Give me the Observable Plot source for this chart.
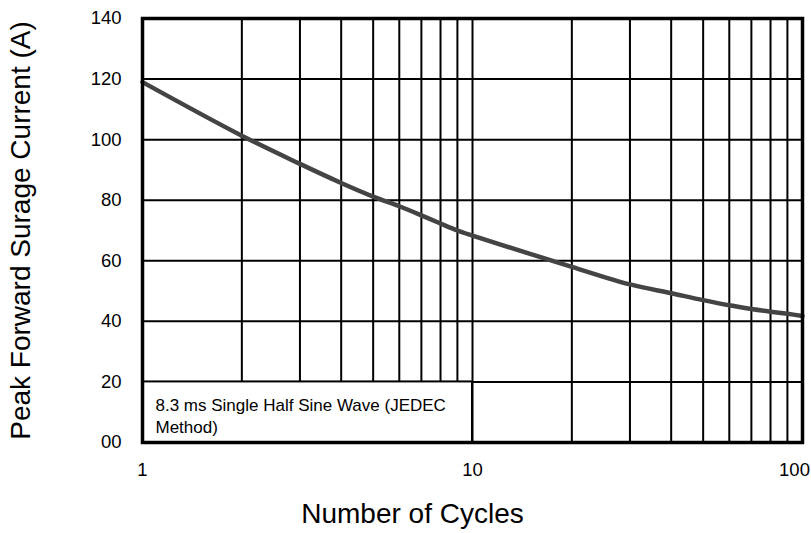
<!DOCTYPE html>
<html>
<head>
<meta charset="utf-8">
<script src="https://cdn.jsdelivr.net/npm/d3@7"></script>
<script src="https://cdn.jsdelivr.net/npm/@observablehq/plot@0.6"></script>
<style>
  html, body { margin: 0; padding: 0; background: #fff; }
  #chart { width: 811px; height: 533px; }
</style>
</head>
<body>
<div id="chart"></div>
<script>
// Data
const cycles  = [1, 2, 3, 4, 5, 6, 7, 8, 9, 10, 20, 30, 40, 50, 60, 70, 80, 90, 100];
const current = [119, 101.3, 92, 85.7, 81.2, 78, 75, 72.3, 70, 68.3, 58, 52.2, 49.3, 47, 45.3, 44.1, 43.2, 42.5, 41.8];

const xGrid = [2, 3, 4, 5, 6, 7, 8, 9, 10, 20, 30, 40, 50, 60, 70, 80, 90];
const yGrid = [20, 40, 60, 80, 100, 120];
const yTicks = [0, 20, 40, 60, 80, 100, 120, 140];
const yTickLabels = ["00", "20", "40", "60", "80", "100", "120", "140"];
const xTicksMain = [1, 10];
const xTicksEnd = [100];
const noteBox = [{x1: 1, x2: 10, y1: 0, y2: 20}];
const noteText = "8.3 ms Single Half Sine Wave (JEDEC\nMethod)";
const xLabel = "Number of Cycles";
const yLabel = "Peak Forward Surage Current (A)";

const data = cycles.map((c, i) => ({c, v: current[i]}));

const chart = Plot.plot({
  width: 811,
  height: 533,
  marginLeft: 142,
  marginRight: 9,
  marginTop: 18,
  marginBottom: 91,
  style: {fontFamily: "'Liberation Sans', Arial, sans-serif", color: "#000", background: "#fff"},
  x: {type: "log", domain: [1, 100], axis: null},
  y: {domain: [0, 140], axis: null},
  marks: [
    Plot.ruleX(xGrid, {x: d => d, stroke: "#000", strokeWidth: 2}),
    Plot.ruleY(yGrid, {y: d => d, stroke: "#000", strokeWidth: 2}),
    Plot.rect(noteBox, {x1: "x1", x2: "x2", y1: "y1", y2: "y2", fill: "#fff", stroke: "#000", strokeWidth: 2}),
    Plot.text([noteText], {x: 1, y: 20, text: d => d, textAnchor: "start", lineAnchor: "top",
      dx: 13, dy: 13, fontSize: 17, lineHeight: 1.3, fill: "#000"}),
    Plot.line(data, {x: "c", y: "v", curve: "catmull-rom", stroke: "#444", strokeWidth: 4.5, strokeLinecap: "round"}),
    Plot.frame({stroke: "#000", strokeWidth: 3.5}),
    Plot.text(yTicks, {frameAnchor: "left", y: d => d, text: (d, i) => yTickLabels[i],
      textAnchor: "end", dx: -21, fontSize: 18.5, fill: "#000"}),
    Plot.text(xTicksMain, {frameAnchor: "bottom", x: d => d, text: d => String(d),
      dy: 28, lineAnchor: "middle", fontSize: 18.5, fill: "#000"}),
    Plot.text(xTicksEnd, {frameAnchor: "bottom", x: d => d, text: d => String(d),
      dx: -8, dy: 28, lineAnchor: "middle", fontSize: 18.5, fill: "#000"}),
    Plot.text([xLabel], {frameAnchor: "bottom", text: d => d, dx: -60, dy: 80,
      lineAnchor: "bottom", fontSize: 28, fill: "#000"}),
    Plot.text([yLabel], {frameAnchor: "left", text: d => d, rotate: -90, dx: -121,
      textAnchor: "middle", lineAnchor: "middle", fontSize: 28, fill: "#000"})
  ]
});
document.getElementById("chart").appendChild(chart);
</script>
</body>
</html>
